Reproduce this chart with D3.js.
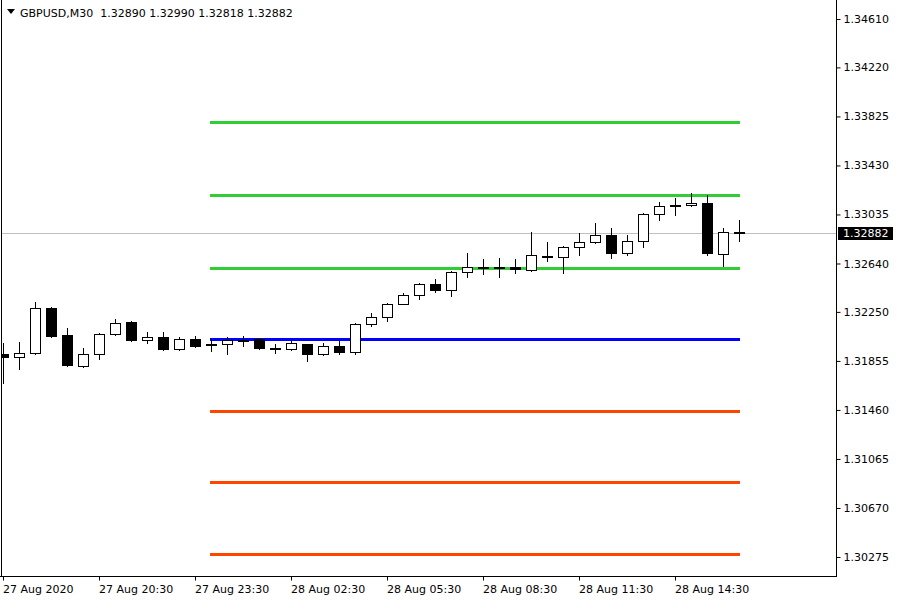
<!DOCTYPE html>
<html>
<head>
<meta charset="utf-8">
<script src="https://cdn.jsdelivr.net/npm/d3@7"></script>
<style>
html,body{margin:0;padding:0;background:#fff;}
svg{display:block;}
text{font-family:"DejaVu Sans",sans-serif;font-size:11px;}
</style>
</head>
<body>
<svg id="chart" width="900" height="600"></svg>
<script>
// ---- data (M30 candles, GBPUSD) ----
const opens  = [1.31911,1.31887,1.31919,1.32282,1.32064,1.31814,1.31911,1.32072,1.32169,1.32024,1.32048,1.31951,1.32032,1.31990,1.31992,1.32024,1.32032,1.31959,1.31951,1.31992,1.31911,1.31975,1.31927,1.32153,1.32209,1.32314,1.32386,1.32475,1.32427,1.32572,1.32612,1.32612,1.32612,1.32588,1.32701,1.32692,1.32773,1.32813,1.32870,1.32725,1.32821,1.33039,1.33111,1.33111,1.33128,1.32717,1.32890];
const highs  = [1.32000,1.32008,1.32330,1.32290,1.32120,1.31959,1.32080,1.32193,1.32177,1.32088,1.32088,1.32048,1.32056,1.32032,1.32048,1.32056,1.32040,1.31992,1.32016,1.31995,1.32000,1.32016,1.32161,1.32241,1.32322,1.32402,1.32480,1.32515,1.32578,1.32725,1.32676,1.32684,1.32676,1.32894,1.32813,1.32778,1.32886,1.32966,1.32926,1.32870,1.33047,1.33136,1.33168,1.33208,1.33192,1.32926,1.32990];
const lows   = [1.31677,1.31790,1.31911,1.32050,1.31814,1.31806,1.31871,1.32064,1.32018,1.32000,1.31943,1.31943,1.31967,1.31935,1.31911,1.31975,1.31951,1.31919,1.31943,1.31855,1.31903,1.31911,1.31911,1.32137,1.32177,1.32310,1.32354,1.32410,1.32378,1.32531,1.32556,1.32531,1.32564,1.32580,1.32660,1.32564,1.32709,1.32808,1.32684,1.32709,1.32773,1.32991,1.33031,1.33100,1.32709,1.32620,1.32818];
const closes = [1.31887,1.31919,1.32282,1.32056,1.31822,1.31911,1.32072,1.32161,1.32024,1.32048,1.31951,1.32032,1.31975,1.31992,1.32024,1.32024,1.31959,1.31959,1.32000,1.31911,1.31975,1.31927,1.32153,1.32209,1.32314,1.32386,1.32475,1.32427,1.32572,1.32612,1.32612,1.32612,1.32596,1.32709,1.32701,1.32773,1.32813,1.32870,1.32725,1.32821,1.33039,1.33103,1.33111,1.33128,1.32725,1.32894,1.32882];

// pivot levels (drawn from start of 28 Aug)
const pivotLevels = [1.33780,1.33192,1.32600,1.32032,1.31448,1.30880,1.30296];
const pivotColors = ["#32CD32","#32CD32","#32CD32","#0000FF","#FF4500","#FF4500","#FF4500"];
const pivotStartIndex = 13;

// axis ticks
const priceTicks = [1.34610,1.34220,1.33825,1.33430,1.33035,1.32640,1.32250,1.31855,1.31460,1.31065,1.30670,1.30275];
const timeTickIndex = [0,6,12,18,24,30,36,42];
const timeTickLabels = ["27 Aug 2020","27 Aug 20:30","27 Aug 23:30","28 Aug 02:30","28 Aug 05:30","28 Aug 08:30","28 Aug 11:30","28 Aug 14:30"];

const symbol = "GBPUSD,M30";
const lastPrice = 1.32882;

// ---- layout ----
const plotLeft = 1, plotRight = 836, plotTop = 0, plotBottom = 576;
const svg = d3.select("#chart");

const y = d3.scaleLinear().domain([1.30275, 1.34610]).range([557, 19]);
const x = d3.scaleLinear().domain([0, 1]).range([3, 19]);

const fmt = d3.format(".5f");

svg.append("defs").append("clipPath").attr("id","plotclip")
  .append("rect").attr("x", plotLeft+1).attr("y", plotTop).attr("width", plotRight-plotLeft-1).attr("height", plotBottom-plotTop);

const plot = svg.append("g").attr("clip-path","url(#plotclip)");

// current price line
plot.append("line")
  .attr("x1", plotLeft).attr("x2", plotRight)
  .attr("y1", Math.round(y(lastPrice))+0.5).attr("y2", Math.round(y(lastPrice))+0.5)
  .attr("stroke","#C0C0C0").attr("stroke-width",1);

// pivot lines
plot.selectAll("line.pivot").data(pivotLevels).join("line")
  .attr("class","pivot")
  .attr("x1", x(pivotStartIndex)-1).attr("x2", x(opens.length-1)+1)
  .attr("y1", d => Math.round(y(d))+0.5).attr("y2", d => Math.round(y(d))+0.5)
  .attr("stroke", (d,i) => pivotColors[i]).attr("stroke-width",3);

// candles
const candles = opens.map((o,i) => ({i, o, h: highs[i], l: lows[i], c: closes[i]}));
const cg = plot.selectAll("g.candle").data(candles).join("g").attr("class","candle");
cg.append("line")
  .attr("x1", d => Math.round(x(d.i))+0.5).attr("x2", d => Math.round(x(d.i))+0.5)
  .attr("y1", d => Math.round(y(d.h))).attr("y2", d => Math.round(y(d.l))+1)
  .attr("stroke","#000").attr("stroke-width",1);
cg.append("rect")
  .attr("x", d => Math.round(x(d.i))-5+0.5)
  .attr("width", 10)
  .attr("y", d => Math.round(y(Math.max(d.o,d.c)))+0.5)
  .attr("height", d => Math.max(1, Math.round(y(Math.min(d.o,d.c))) - Math.round(y(Math.max(d.o,d.c)))))
  .attr("fill", d => d.c < d.o ? "#000" : "#fff")
  .attr("stroke","#000").attr("stroke-width",1);

// frame
svg.append("line").attr("x1",plotLeft+0.5).attr("x2",plotLeft+0.5).attr("y1",plotTop).attr("y2",plotBottom+1).attr("stroke","#000");
svg.append("line").attr("x1",plotRight+0.5).attr("x2",plotRight+0.5).attr("y1",plotTop).attr("y2",plotBottom+1).attr("stroke","#000");
svg.append("line").attr("x1",0).attr("x2",plotRight+1).attr("y1",plotBottom+0.5).attr("y2",plotBottom+0.5).attr("stroke","#000");

// right price axis
const yAxis = d3.axisRight(y).tickValues(priceTicks).tickFormat(fmt).tickSize(4).tickPadding(3);
const ya = svg.append("g").attr("transform",`translate(${plotRight+0.5},0)`).call(yAxis);
ya.select(".domain").remove();
ya.selectAll("text").attr("fill","#000").style("font-size","11px").style("font-family","DejaVu Sans");

// current price label
const py = Math.round(y(lastPrice));
svg.append("rect").attr("x",838).attr("y",py-6).attr("width",55).attr("height",13).attr("fill","#000");
svg.append("text").attr("x",843).attr("y",py+4).attr("fill","#fff").text(fmt(lastPrice));

// bottom time axis
const xa = svg.append("g").attr("transform",`translate(0,${plotBottom+0.5})`);
xa.selectAll("line").data(timeTickIndex).join("line")
  .attr("x1", d => Math.round(x(d))+0.5).attr("x2", d => Math.round(x(d))+0.5)
  .attr("y1",0).attr("y2",4).attr("stroke","#000");
xa.selectAll("text").data(timeTickIndex).join("text")
  .attr("x", d => Math.round(x(d))).attr("y", 16)
  .attr("fill","#000")
  .text((d,i) => timeTickLabels[i]);

// title
svg.append("path").attr("d","M7,9 L15,9 L11,14 Z").attr("fill","#000");
svg.append("text").attr("x",20).attr("y",17).attr("fill","#000")
  .text(`${symbol}  ${fmt(opens[opens.length-1])} ${fmt(highs[highs.length-1])} ${fmt(lows[lows.length-1])} ${fmt(closes[closes.length-1])}`)
  .attr("xml:space","preserve").style("white-space","pre");
</script>
</body>
</html>
